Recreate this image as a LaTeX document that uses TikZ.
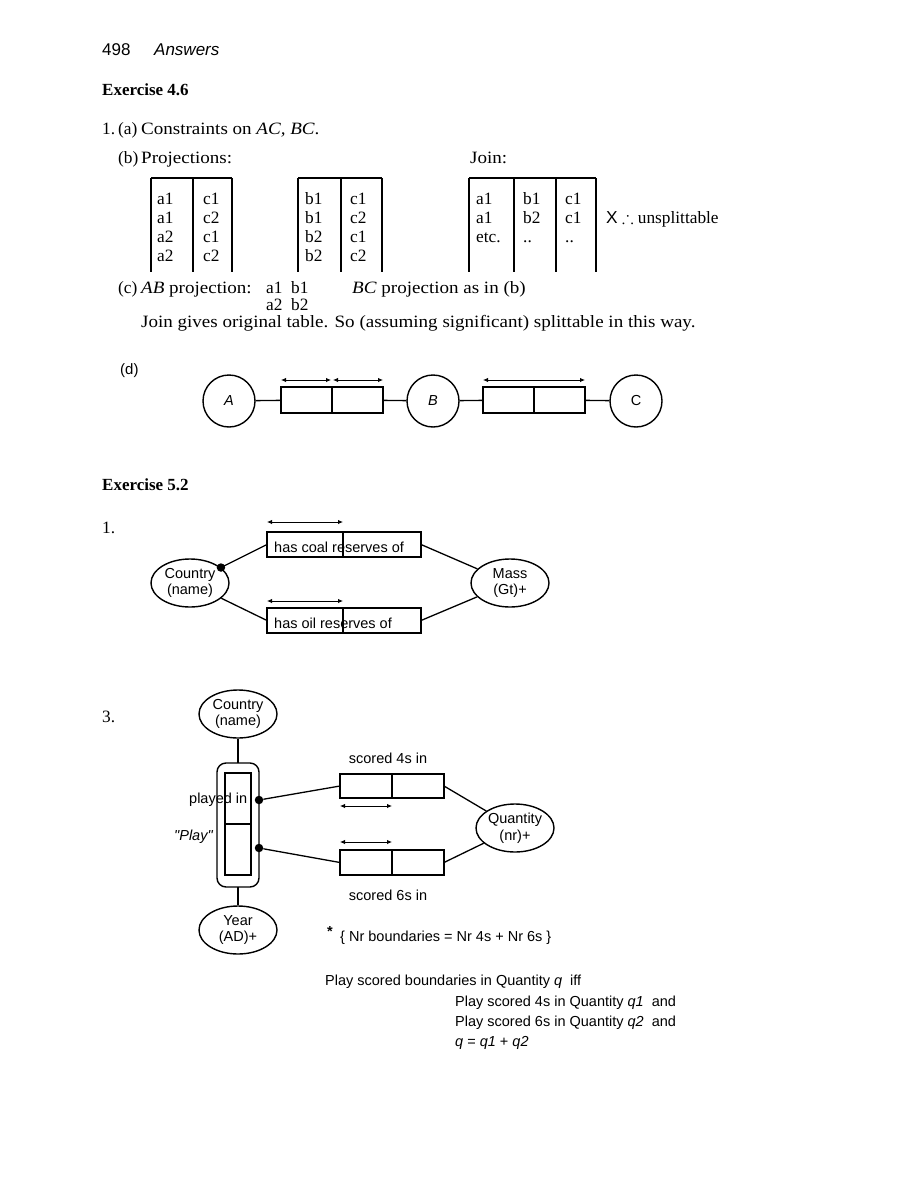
\documentclass[tikz,border=0pt]{standalone}
\usepackage{fontspec}
\usepackage{amssymb}
\setmainfont{Liberation Serif}
\newfontfamily\widefont{Liberation Serif}[FakeStretch=1.1]
\setsansfont{Liberation Sans}
\usetikzlibrary{arrows.meta,shapes.geometric,positioning}

\newcommand\serif{\fontsize{17.3}{19.3}\selectfont}
\newcommand\wide{\widefont\fontsize{17.3}{19.3}\selectfont}
\newcommand\lblfont{\sffamily\fontsize{14.5}{16.5}\selectfont}

\tikzset{
  txt/.style={anchor=base west, inner sep=0pt, font=\serif},
  wtxt/.style={anchor=base west, inner sep=0pt, font=\wide},
  lbl/.style={anchor=base west, inner sep=0pt, font=\lblfont},
  tab/.style={line width=1.6pt},
  ent/.style={draw, ellipse, minimum width=78pt, minimum height=48pt, inner sep=0pt,
    align=center, line width=1.4pt, font=\lblfont},
  obj/.style={draw, circle, minimum size=52pt, inner sep=0pt, line width=1.4pt, font=\lblfont},
  cell/.style={draw, rectangle, minimum width=51pt, minimum height=26pt, inner sep=0pt,
    outer sep=0pt, line width=1.5pt},
  link/.style={line width=1.3pt},
  uniq/.style={{Latex[length=5pt,width=4.5pt]}-{Latex[length=5pt,width=4.5pt]}, line width=0.9pt},
  dot/.style={circle, fill, inner sep=0pt, minimum size=8.5pt},
}

\begin{document}
\begin{tikzpicture}[x=1pt,y=-1pt]
\useasboundingbox (0,0) rectangle (918,1188);

% page head
\node[lbl, font=\sffamily\fontsize{17}{20}\selectfont] (pg) at (102,56) {498};
\node[lbl, font=\sffamily\itshape\fontsize{17}{20}\selectfont] (head) at (154,56) {Answers};

% Exercise 4.6
\node[txt, font=\bfseries\fontsize{17}{20}\selectfont] (ex46) at (102,96) {Exercise 4.6};
\node[txt] (n1) at (102,135) {1.};
\node[txt] (qa) at (118,135) {(a)};
\node[wtxt] (ca) at (141,135) {Constraints on \textit{AC, BC}.};
\node[txt] (qb) at (118,163) {(b)};
\node[wtxt] (cb) at (141,163) {Projections:};
\node[wtxt] (cj) at (470,163) {Join:};

% projection tables
\draw[tab] (151,178) -- (232,178);
\foreach \x in {151,193,232} \draw[tab] (\x,178) -- (\x,272);
\foreach \a/\c [count=\i] in {a1/c1,a1/c2,a2/c1,a2/c2} {
  \node[txt] (ta\i) at (157,184.7+19.3*\i) {\a};
  \node[txt] (tc\i) at (203,184.7+19.3*\i) {\c};
}
\draw[tab] (298,178) -- (382,178);
\foreach \x in {298,341,382} \draw[tab] (\x,178) -- (\x,272);
\foreach \b/\c [count=\i] in {b1/c1,b1/c2,b2/c1,b2/c2} {
  \node[txt] (ub\i) at (305,184.7+19.3*\i) {\b};
  \node[txt] (uc\i) at (350,184.7+19.3*\i) {\c};
}
% join table
\draw[tab] (469,178) -- (596,178);
\foreach \x in {469,514,556,596} \draw[tab] (\x,178) -- (\x,272);
\foreach \a/\b/\c [count=\i] in {a1/b1/c1,a1/b2/c1,etc./../..} {
  \node[txt] (ja\i) at (476,184.7+19.3*\i) {\a};
  \node[txt] (jb\i) at (523,184.7+19.3*\i) {\b};
  \node[txt] (jc\i) at (565,184.7+19.3*\i) {\c};
}
\node[txt] (unsp) at (606,223) {{\sffamily X} $\therefore$ unsplittable};

% (c)
\node[txt] (qc) at (118,293) {(c)};
\node[wtxt] (cc) at (141,293) {\textit{AB} projection:};
\node[txt] (c11) at (266,293) {a1};
\node[txt] (c12) at (291,293) {b1};
\node[txt] (c21) at (266,310) {a2};
\node[txt] (c22) at (291,310) {b2};
\node[wtxt] (cbc) at (352,293) {\textit{BC} projection as in (b)};
\node[wtxt] (cjn) at (141,327) {Join gives original table. So (assuming significant) splittable in this way.};

% (d)
\node[txt, font=\sffamily\fontsize{15}{18}\selectfont] (qd) at (120,374) {(d)};
\node[obj] (A) at (229,401) {\textit{A}};
\node[obj] (B) at (433,401) {\textit{B}};
\node[obj] (C) at (636,401) {C};
\node[cell] (d1) at (306.5,400) {};
\node[cell, right=0pt of d1] (d2) {};
\node[cell] (d3) at (508.5,400) {};
\node[cell, right=0pt of d3] (d4) {};
\draw[link] (A) -- (d1);
\draw[link] (d2) -- (B);
\draw[link] (B) -- (d3);
\draw[link] (d4) -- (C);
\draw[uniq] ([yshift=7pt]d1.north west) -- ([yshift=7pt,xshift=-1pt]d1.north east);
\draw[uniq] ([yshift=7pt,xshift=1pt]d2.north west) -- ([yshift=7pt]d2.north east);
\draw[uniq] ([yshift=7pt]d3.north west) -- ([yshift=7pt]d4.north east);

% Exercise 5.2
\node[txt, font=\bfseries\fontsize{17}{20}\selectfont] (ex52) at (102,490) {Exercise 5.2};
\node[txt] (n51) at (102,533) {1.};
\node[ent] (cty) at (190,583) {Country\\(name)};
\node[ent] (mass) at (510,583) {Mass\\(Gt)+};
\node[cell, minimum width=76pt, minimum height=25pt] (coal1) at (305,544.5) {};
\node[cell, minimum width=78pt, minimum height=25pt, right=0pt of coal1] (coal2) {};
\node[cell, minimum width=76pt, minimum height=25pt] (oil1) at (305,620.5) {};
\node[cell, minimum width=78pt, minimum height=25pt, right=0pt of oil1] (oil2) {};
\node[lbl] (coaltxt) at (274,552) {has coal reserves of};
\node[lbl] (oiltxt) at (274,628) {has oil reserves of};
\draw[link] (cty) -- (coal1.west) node[pos=0, dot] (cdot) {};
\draw[link] (coal2.east) -- (mass);
\draw[link] (cty) -- (oil1.west);
\draw[link] (oil2.east) -- (mass);
\draw[uniq] ([yshift=10pt]coal1.north west) -- ([yshift=10pt]coal1.north east);
\draw[uniq] ([yshift=7pt]oil1.north west) -- ([yshift=7pt]oil1.north east);

% item 3
\node[txt] (n53) at (102,722) {3.};
\node[ent] (cty3) at (238,714) {Country\\(name)};
\node[draw, rounded corners=9pt, minimum width=42pt, minimum height=124pt, inner sep=0pt,
  outer sep=0pt, line width=1.4pt] (frame) at (238,825) {};
\node[cell, minimum width=26pt, minimum height=51pt] (pl1) at (238,798.5) {};
\node[cell, minimum width=26pt, minimum height=51pt, below=0pt of pl1] (pl2) {};
\node[ent] (year) at (238,930) {Year\\(AD)+};
\draw[link] (cty3) -- (frame);
\draw[link] (frame) -- (year);
\node[lbl] (plin) at (189,803) {played in};
\node[lbl, font=\lblfont\itshape] (play) at (174,840) {\textquotedbl Play\textquotedbl};
\node[dot] (pd1) at (259,800) {};
\node[dot] (pd2) at (259,848) {};

\node[cell, minimum width=52pt, minimum height=24pt] (s41) at (366,786) {};
\node[cell, minimum width=52pt, minimum height=24pt, right=0pt of s41] (s42) {};
\node[cell, minimum width=52pt, minimum height=25pt] (s61) at (366,862.5) {};
\node[cell, minimum width=52pt, minimum height=25pt, right=0pt of s61] (s62) {};
\node[ent] (qty) at (515,828) {Quantity\\(nr)+};
\draw[link] (pd1) -- (s41.west);
\draw[link] (s42.east) -- (qty);
\draw[link] (pd2) -- (s61.west);
\draw[link] (s62.east) -- (qty);
\draw[uniq] ([yshift=-8pt]s41.south west) -- ([yshift=-8pt]s41.south east);
\draw[uniq] ([yshift=8pt]s61.north west) -- ([yshift=8pt]s61.north east);
\node[lbl, anchor=base] (sc4) at (388,763) {scored 4s in};
\node[lbl, anchor=base] (sc6) at (388,900) {scored 6s in};

% constraint and derivation rule
\node[lbl, font=\sffamily\bfseries\fontsize{14.5}{17}\selectfont] (star) at (327,936) {*};
\node[lbl] (cons) at (340,941) {\{ Nr boundaries = Nr 4s + Nr 6s \}};
\node[lbl] (r0) at (325,985) {Play scored boundaries in Quantity \textit{q}\ \ iff};
\node[lbl] (r1) at (455,1006) {Play scored 4s in Quantity \textit{q1}\ \ and};
\node[lbl] (r2) at (455,1026) {Play scored 6s in Quantity \textit{q2}\ \ and};
\node[lbl] (r3) at (455,1046) {\textit{q} = \textit{q1} + \textit{q2}};
\end{tikzpicture}
\end{document}
